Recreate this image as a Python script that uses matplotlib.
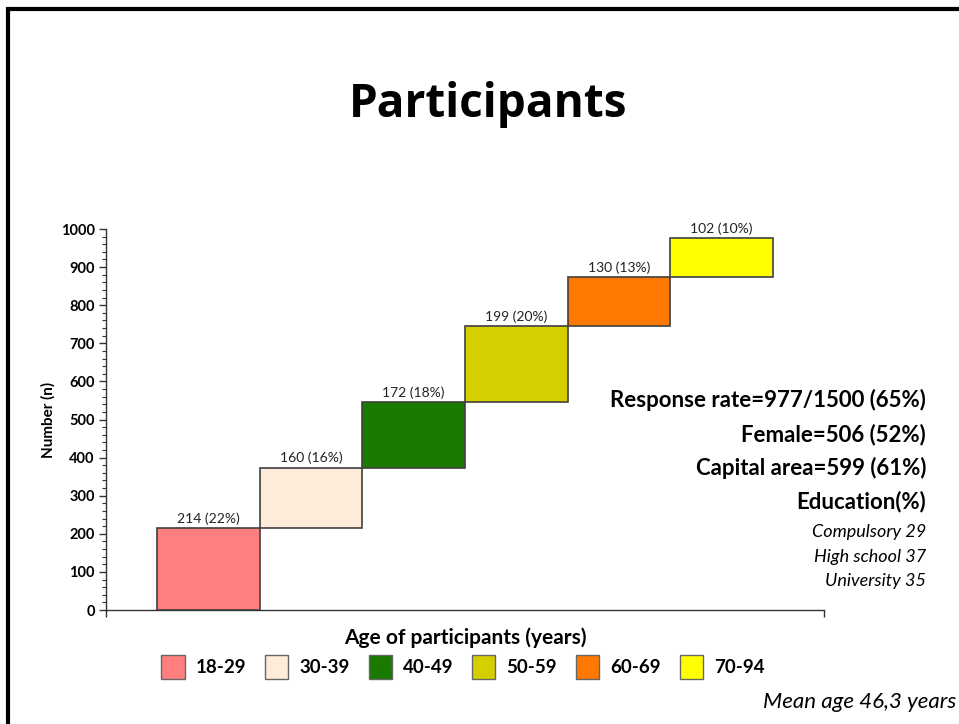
import matplotlib
matplotlib.use("Agg")
import matplotlib.pyplot as plt
from matplotlib.patches import Patch, Rectangle
from matplotlib.ticker import MultipleLocator

plt.rcParams['font.family'] = ['Lato', 'DejaVu Sans']

age_groups = ["18-29", "30-39", "40-49", "50-59", "60-69", "70-94"]
counts = [214, 160, 172, 199, 130, 102]
percents = [22, 16, 18, 20, 13, 10]
colors = ["#FF7F7F", "#FFEBD9", "#1A7A00", "#D6CF00", "#FF7800", "#FFFF00"]
y_ticks = [0, 100, 200, 300, 400, 500, 600, 700, 800, 900, 1000]
info_bold = ["Response rate=977/1500 (65%)", "Female=506 (52%)",
             "Capital area=599 (61%)", "Education(%)"]
info_italic = ["Compulsory 29", "High school 37", "University 35"]

fig = plt.figure(figsize=(9.59, 7.24), dpi=100)
W, H = 959, 724

# slide frame
fig.patches.append(Rectangle((7.5 / W, -0.1), 1.2, (H - 9) / H + 0.1,
                             transform=fig.transFigure, fill=False,
                             edgecolor="black", linewidth=3))

ax = fig.add_axes([106 / W, 1 - 610 / H, (824 - 106) / W, (610 - 229) / H])

bottoms = []
acc = 0
for c in counts:
    bottoms.append(acc)
    acc += c
xs = list(range(len(counts)))
ax.bar(xs, counts, bottom=bottoms, width=1.0, color=colors,
       edgecolor="#404040", linewidth=1.2, zorder=3)
for x, b, c, p in zip(xs, bottoms, counts, percents):
    ax.text(x, b + c + 8, f"{c} ({p}%)", ha="center", va="bottom",
            fontsize=10, color="#222222")

ax.set_xlim(-1, 6)
ax.set_ylim(0, 1000)
ax.set_yticks(y_ticks)
ax.yaxis.set_minor_locator(MultipleLocator(20))
ax.set_xticks([-1, 6])
ax.set_xticklabels([])
ax.tick_params(axis="y", which="major", direction="out", length=5,
               labelsize=10.5, width=1, color="#333333", pad=3)
ax.tick_params(axis="y", which="minor", direction="out", length=3,
               width=0.8, color="#333333")
ax.tick_params(axis="x", which="major", direction="out", length=5,
               width=1, color="#333333")
for lbl in ax.get_yticklabels():
    lbl.set_fontweight("bold")
for s in ["top", "right"]:
    ax.spines[s].set_visible(False)
for s in ["left", "bottom"]:
    ax.spines[s].set_color("#333333")
    ax.spines[s].set_linewidth(1)

ax.set_ylabel("Number (n)", fontsize=11, fontweight="bold", labelpad=4)
ax.set_xlabel("Age of participants (years)", fontsize=15, fontweight="bold",
              labelpad=4)

handles = [Patch(facecolor=c, edgecolor="#666666", linewidth=1) for c in colors]
fig.legend(handles, age_groups, loc="center", bbox_to_anchor=(463 / W, 1 - 667 / H),
           ncol=6, frameon=False, handlelength=1.23,
           handleheight=1.55, columnspacing=1.0, handletextpad=0.6,
           prop={"weight": "bold", "size": 13.5})

fig.text(488 / W, 1 - 105 / H, "Participants", ha="center", va="center",
         fontsize=33, fontweight="bold", family=["Open Sans", "DejaVu Sans"])

ys_bold = [400, 435, 468, 502]
for t, yy in zip(info_bold, ys_bold):
    fig.text(926 / W, 1 - yy / H, t, ha="right", va="center", fontsize=16,
             fontweight="bold")
ys_it = [532, 557, 581]
for t, yy in zip(info_italic, ys_it):
    fig.text(926 / W, 1 - yy / H, t, ha="right", va="center", fontsize=13,
             style="italic")

fig.text(956 / W, 1 - 702 / H, "Mean age 46,3 years", ha="right", va="center",
         fontsize=16, style="italic")

fig.savefig("out.png", dpi=100)
